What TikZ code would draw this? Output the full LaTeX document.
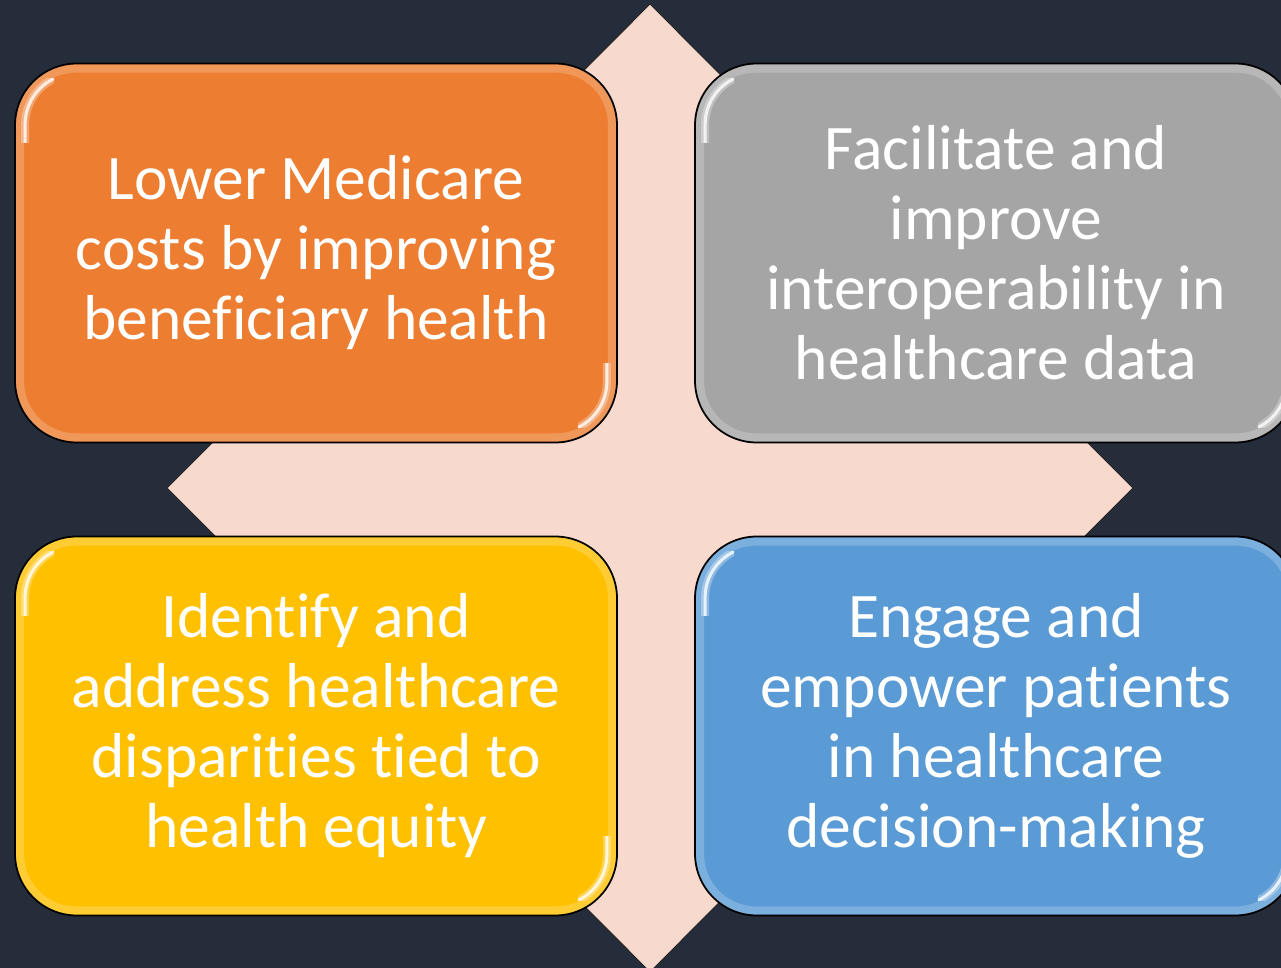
\documentclass[tikz,border=0pt]{standalone}
\usepackage{fontspec}
\setmainfont[Ligatures=NoCommon]{Carlito}
\usepackage{tikz}
\usetikzlibrary{positioning}

\definecolor{bgedge}{HTML}{262D3A}
\definecolor{bgmid}{HTML}{040405}
\definecolor{crossfill}{HTML}{F8D9CD}
\definecolor{goalorange}{HTML}{ED7D31}
\definecolor{goalgray}{HTML}{A5A5A5}
\definecolor{goalyellow}{HTML}{FFC000}
\definecolor{goalblue}{HTML}{5B9BD5}

\tikzset{
  goal/.style={draw=black, line width=1.8pt, rounded corners=62pt,
    minimum width=602pt, minimum height=379pt, inner sep=0pt,
    align=center, text=white, font=\fontsize{63.5}{70}\selectfont},
  rim/.style={white, opacity=0.2, line width=8pt, rounded corners=56pt},
  glow/.style={white, opacity=0.3, line width=8pt, rounded corners=51pt},
  gloss/.style={white, opacity=0.8, line width=3pt, rounded corners=51pt}
}

\begin{document}
\begin{tikzpicture}[x=1pt,y=-1pt,node distance=680pt]
  \useasboundingbox (0,0) rectangle (1281,968);
  \clip (0,0) rectangle (1281,968);
  % backdrop, darkest across the middle
  \shade[top color=bgedge, middle color=bgmid, bottom color=bgedge] (0,0) rectangle (1281,968);
  % big diamond behind the boxes
  \draw[fill=crossfill, draw=black!85, line width=1pt]
    (650,4) -- (1133,488) -- (650,972) -- (167,488) -- cycle;

  \node[goal, fill=goalorange] (A) at (316,253) {Lower Medicare\\costs by improving\\beneficiary health};
  \node[goal, fill=goalgray, right of=A] (B) {Facilitate and\\improve\\interoperability in\\healthcare data};
  \node[goal, fill=goalyellow, below of=A, node distance=473pt] (C) {Identify and\\address healthcare\\disparities tied to\\health equity};
  \node[goal, fill=goalblue, right of=C] (D) {Engage and\\empower patients\\in healthcare\\decision-making};

  % bevel: soft rim plus two glossy streaks
  \foreach \n in {A,B,C,D} {
    \draw[rim] ([shift={(6,6)}]\n.north west) rectangle ([shift={(-6,-6)}]\n.south east);
    \begin{scope}
      \clip ([shift={(0,16)}]\n.north west) rectangle ++(40,64);
      \draw[glow] ([shift={(11,11)}]\n.north west) rectangle ([shift={(-11,-11)}]\n.south east);
      \draw[gloss] ([shift={(11,11)}]\n.north west) rectangle ([shift={(-11,-11)}]\n.south east);
    \end{scope}
    \begin{scope}
      \clip ([shift={(0,-16)}]\n.south east) rectangle ++(-40,-64);
      \draw[glow] ([shift={(11,11)}]\n.north west) rectangle ([shift={(-11,-11)}]\n.south east);
      \draw[gloss] ([shift={(11,11)}]\n.north west) rectangle ([shift={(-11,-11)}]\n.south east);
    \end{scope}
  }
\end{tikzpicture}
\end{document}
